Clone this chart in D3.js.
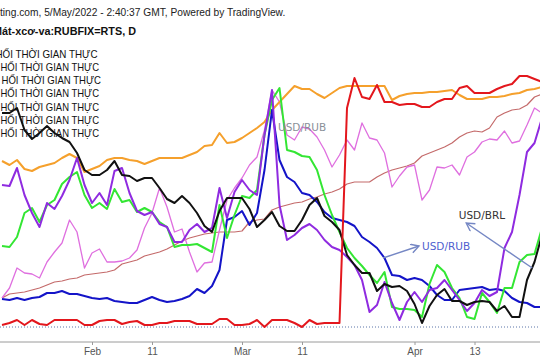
<!DOCTYPE html>
<html>
<head>
<meta charset="utf-8">
<script src="https://cdn.jsdelivr.net/npm/d3@7"></script>
<style>
html, body { margin: 0; padding: 0; background: #fff; }
svg { display: block; }
</style>
</head>
<body>
<svg id="chart" width="540" height="360"></svg>
<script>
// ----------- DATA -----------
// trading days from Jan 14 to Apr 26 2022, one value per day (normalised index)
const firstDay = "2022-01-14";
const lastDay = "2022-04-27";

const tickDates = ["2022-02-01", "2022-02-11", "2022-03-01", "2022-03-11", "2022-04-01", "2022-04-13"];
const tickLabels = ["Feb", "11", "Mar", "11", "Apr", "13"];

const orange = [169,165,170,161,159,163,165,167,172,176, 172,158,161,164,170,172,172,170,169,166,
  169,172,172,172,172,175,178,184,185,197, 187,188,192,197,202,208,220,228,236,244,
  241,241,236,232,237,242,244,244,244,244, 244,244,230,234,236,237,237,238,238,239,
  240,235,231,231,231,233,233,234,236,237, 240,241,243];

const red = [5,7,10,5,10,6,5,10,10,10, 10,5,5,9,10,10,6,8,9,5,
  5,7,7,9,9,9,6,6,6,11, 11,5,5,6,10,3,10,10,10,7,
  3,10,6,7,7,7,222,252,233,231, 245,228,228,225,226,226,223,223,228,231,
  231,242,244,237,237,237,241,244,246,254, 254,251,248];

const black = [217,217,222,200,191,197,204,197,192,188, 177,160,155,155,160,169,155,154,149,152,
  152,142,131,127,134,127,117,104,98,119, 132,132,132,121,103,110,118,104,99,99,
  110,125,132,114,108,100,75,65,57,57, 39,46,43,44,39,26,7,24,35,41,
  29,29,25,28,29,28,19,24,13,13, 50,68,95];

const purple = [145,144,162,135,117,103,127,121,134,150, 172,145,127,137,125,159,162,137,119,115,
  118,106,103,88,88,100,106,98,102,142, 112,138,150,140,135,195,240,125,90,95,
  102,106,100,90,83,80,73,65,50,18, 25,48,27,10,28,38,28,40,42,50,
  40,30,19,27,40,34,38,82,98,135, 178,187,212];

const green = [84,83,93,117,122,108,125,130,146,153, 158,135,122,127,121,141,128,130,118,122,
  118,108,103,83,85,85,86,82,78,125, 92,115,134,132,140,195,230,242,180,178,
  174,173,160,135,115,98,82,72,64,55, 47,58,23,21,21,20,13,46,65,58,
  42,32,13,11,37,28,17,42,42,68, 75,76,102];

const blue = [31,30,32,30,32,33,37,37,39,36, 36,34,32,31,32,29,28,27,27,30,
  33,30,28,29,31,34,41,37,44,60, 110,113,119,105,117,160,220,170,153,148,
  137,135,128,118,112,110,108,104,93,88, 82,72,55,54,50,52,50,44,35,30,
  30,40,41,42,43,40,41,39,32,28, 27,23,23];

const orchid = [32,42,62,57,56,52,68,78,87,110, 98,62,77,81,68,68,69,72,80,102,
  117,142,123,98,101,78,58,67,68,100, 130,142,152,165,173,200,240,228,195,190,
  203,201,193,180,163,175,190,180,207,192, 190,177,143,154,163,165,130,140,163,162,
  165,155,173,178,188,191,190,199,187,189, 205,222,217];

const brown = [32,36,37,38,40,42,45,48,49,51, 52,55,56,57,58,60,66,68,70,74,
  76,78,81,85,89,92,94,96,97,98, 98,98,99,108,110,111,120,123,125,127,
  128,131,133,136,138,141,146,148,148,148, 153,157,160,162,164,167,174,177,180,183,
  187,193,197,199,198,202,213,217,220,221, 225,233,236];

const baseLevel = 3;

const headerLine = "ting.com, 5/May/2022 - 2:40:37 GMT, Powered by TradingView.";
const titleLine = "Mát-xcơ-va:RUBFIX=RTS, D";
const legendRows = ["HỐI THỜI GIAN THỰC", "HỐI THỜI GIAN THỰC", "HỐI THỜI GIAN THỰC", "HỐI THỜI GIAN THỰC",
  "HỐI THỜI GIAN THỰC", "HỐI THỜI GIAN THỰC", "HỐI THỜI GIAN THỰC"];
const legendStarts = [-4.5, 0.5, 1.5, 0.5, 0.5, 0.5, 0.5];
const legendEnds = [97.5, 99, 101, 99, 99, 99, 99];

// ----------- SETUP -----------
const svg = d3.select("#chart");
const width = 540, height = 360;
const sans = "'Liberation Sans', Arial, sans-serif";

const days = d3.timeDay.range(new Date(firstDay + "T00:00"), new Date(lastDay + "T00:00"))
  .filter(d => d.getDay() !== 0 && d.getDay() !== 6);
const dayIndex = s => days.findIndex(d => d3.timeFormat("%Y-%m-%d")(d) === s);

const x = d3.scaleLinear().domain([0, 72]).range([2, 542]);
const y = d3.scaleLinear().domain([0, 300]).range([330, 30]);

const series = [
  { values: brown,  color: "#c46a6a", w: 1.2 },
  { values: orchid, color: "#df6fdf", w: 1.3 },
  { values: orange, color: "#f5a02c", w: 2 },
  { values: blue,   color: "#1414c8", w: 2 },
  { values: green,  color: "#33e633", w: 2 },
  { values: purple, color: "#8f2be0", w: 2 },
  { values: black,  color: "#111111", w: 2 },
  { values: red,    color: "#e3171d", w: 2 }
];

const defs = svg.append("defs");
defs.append("clipPath").attr("id", "plot")
  .append("rect").attr("x", 0).attr("y", 0).attr("width", width).attr("height", 338);

// ----------- AXIS -----------
const axis = svg.append("g")
  .attr("transform", "translate(0,342)")
  .call(d3.axisBottom(x)
    .tickValues(tickDates.map(dayIndex))
    .tickFormat((d, i) => tickLabels[i])
    .tickSize(3)
    .tickPadding(3)
    .tickSizeOuter(0));
axis.select(".domain").attr("stroke", "#9a9a9a").attr("d", "M0,0H" + width);
axis.selectAll(".tick line").attr("stroke", "#9a9a9a");
axis.selectAll(".tick text")
  .attr("fill", "#555")
  .attr("font-family", sans)
  .attr("font-size", 10);

// dotted base line
svg.append("line")
  .attr("x1", 0).attr("x2", width)
  .attr("y1", y(baseLevel)).attr("y2", y(baseLevel))
  .attr("stroke", "#5a74a8")
  .attr("stroke-width", 1)
  .attr("stroke-dasharray", "1,2");

// ----------- LINES -----------
const line = d3.line()
  .x((d, i) => x(i))
  .y(d => y(d));

svg.append("g").attr("clip-path", "url(#plot)")
  .selectAll("path")
  .data(series)
  .enter()
  .append("path")
  .attr("d", d => line(d.values))
  .attr("fill", "none")
  .attr("stroke", d => d.color)
  .attr("stroke-width", d => d.w)
  .attr("stroke-linejoin", "round");

// ----------- TEXT -----------
svg.append("text")
  .attr("x", 0).attr("y", 16)
  .attr("font-family", sans)
  .attr("font-size", 10.2)
  .attr("fill", "#222")
  .text(headerLine);

svg.append("text")
  .attr("x", -7).attr("y", 35)
  .attr("font-family", sans)
  .attr("font-size", 10.8)
  .attr("font-weight", "bold")
  .attr("fill", "#111")
  .text(titleLine);

svg.selectAll(".legend")
  .data(legendRows)
  .enter()
  .append("text")
  .attr("class", "legend")
  .attr("x", (d, i) => legendStarts[i])
  .attr("y", (d, i) => 57.5 + i * 13.3)
  .attr("textLength", (d, i) => legendEnds[i] - legendStarts[i])
  .attr("lengthAdjust", "spacingAndGlyphs")
  .attr("font-family", sans)
  .attr("font-size", 11)
  .attr("fill", "#111")
  .text(d => d);

// ----------- ANNOTATIONS -----------
const notes = [
  { text: "USD/RUB", i: 36.8, v: 199, color: "#8a9099" },
  { text: "USD/BRL", i: 60.9, v: 111, color: "#333" },
  { text: "USD/RUB", i: 56, v: 80, color: "#4f5fcf" }
];
const arrows = [
  { from: [50.8, 72], to: [55.6, 84] },
  { from: [70.7, 62], to: [61.9, 107] }
];

defs.append("marker")
  .attr("id", "head")
  .attr("markerUnits", "userSpaceOnUse")
  .attr("markerWidth", 12).attr("markerHeight", 12)
  .attr("refX", 9).attr("refY", 5)
  .attr("orient", "auto")
  .append("path")
  .attr("d", "M1,0.5 L9,5 L1,9.5")
  .attr("fill", "none")
  .attr("stroke", "#7587c4")
  .attr("stroke-width", 1.4);

svg.selectAll(".arrow")
  .data(arrows)
  .enter()
  .append("line")
  .attr("class", "arrow")
  .attr("x1", d => x(d.from[0])).attr("y1", d => y(d.from[1]))
  .attr("x2", d => x(d.to[0])).attr("y2", d => y(d.to[1]))
  .attr("stroke", "#7587c4")
  .attr("stroke-width", 1.4)
  .attr("marker-end", "url(#head)");

svg.selectAll(".note")
  .data(notes)
  .enter()
  .append("text")
  .attr("class", "note")
  .attr("x", d => x(d.i))
  .attr("y", d => y(d.v))
  .attr("font-family", "'DejaVu Sans', Verdana, sans-serif")
  .attr("font-size", 10.5)
  .attr("fill", d => d.color)
  .text(d => d.text);
</script>
</body>
</html>
